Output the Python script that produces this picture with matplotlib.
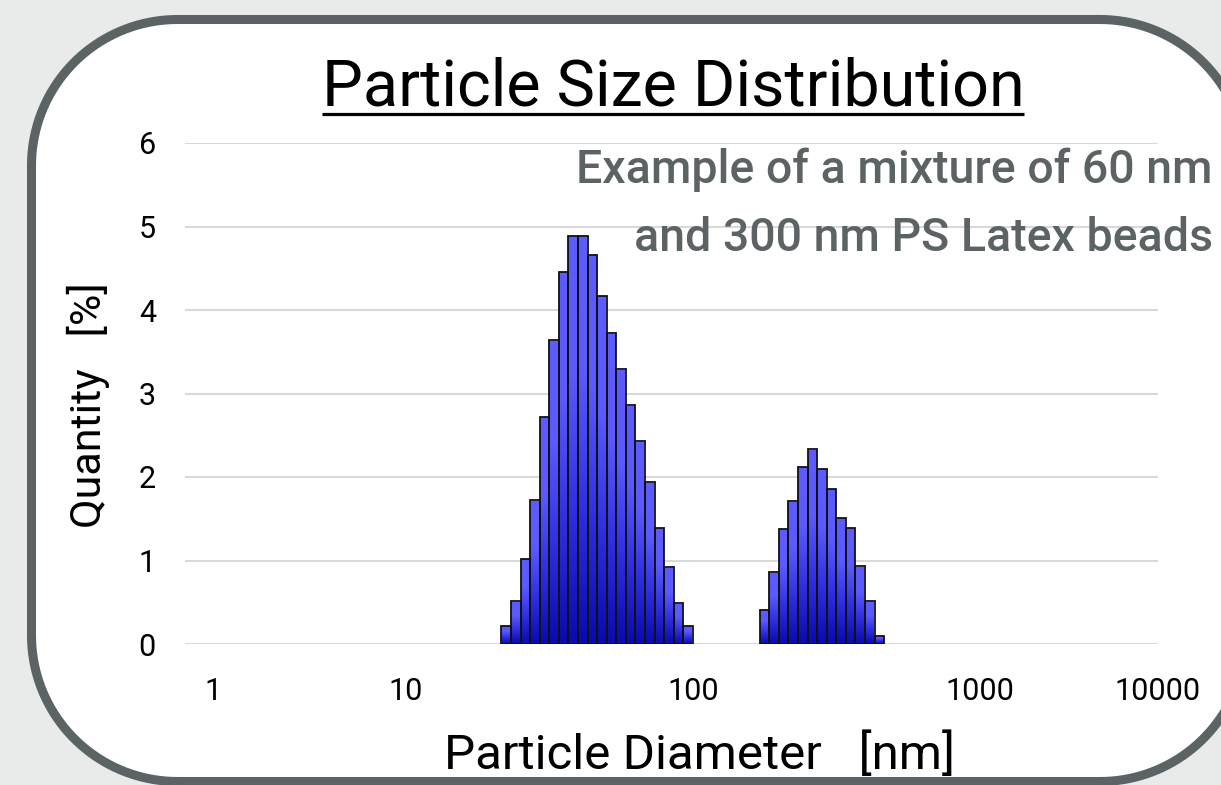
import matplotlib
matplotlib.use("Agg")
import matplotlib.pyplot as plt
import numpy as np
from matplotlib import font_manager
from matplotlib.patches import Rectangle
from matplotlib.colors import LinearSegmentedColormap

# bin edges (nm) and heights (%)
edges_small = [21.54, 23.26, 25.12, 27.13, 29.29, 31.62, 34.15, 36.87, 39.81, 42.99, 46.42,
               50.12, 54.12, 58.45, 63.10, 68.13, 73.56, 79.43, 85.77, 92.61, 100.0]
heights_small = [0.22, 0.51, 1.02, 1.72, 2.72, 3.64, 4.46, 4.89, 4.89, 4.66,
                 4.17, 3.72, 3.29, 2.86, 2.43, 1.94, 1.39, 0.92, 0.49, 0.22]
edges_large = [171.1, 184.8, 199.5, 215.4, 232.6, 251.2, 271.2, 292.9, 316.2, 341.5,
               368.8, 398.1, 429.9, 464.2]
heights_large = [0.41, 0.86, 1.38, 1.71, 2.12, 2.33, 2.10, 1.86, 1.51, 1.39, 0.93, 0.51, 0.10]

xtick_pos = [2.13, 10, 100, 1000, 4170]
xtick_labels = ["1", "10", "100", "1000", "10000"]
yticks = [0, 1, 2, 3, 4, 5, 6]

title = "Particle Size Distribution"
note_lines = ["Example of a mixture of 60 nm", "and 300 nm PS Latex beads"]

available = {f.name for f in font_manager.fontManager.ttflist}
font = next(f for f in ["Liberation Sans Narrow", "Roboto", "DejaVu Sans"] if f in available)
plt.rcParams["font.family"] = font

W, H = 1221, 785
fig = plt.figure(figsize=(W / 100, H / 100), dpi=100, facecolor="#e9ebea")
fig.patch.set_linewidth(0)

# background panel with rounded border, drawn in pixel units
bg = fig.add_axes([0, 0, 1, 1], zorder=0)
bg.set_xlim(0, W)
bg.set_ylim(H, 0)
bg.set_autoscale_on(False)
bg.axis("off")

x0, y0, x1, y1, r = 31.5, 19.5, 1246, 781.5, 146
a = np.linspace(0, np.pi / 2, 40)
px = np.concatenate([x1 - r + r * np.sin(a), x1 - r + r * np.cos(a),
                     x0 + r - r * np.sin(a), x0 + r - r * np.cos(a)])
py = np.concatenate([y0 + r - r * np.cos(a), y1 - r + r * np.sin(a),
                     y1 - r + r * np.cos(a), y0 + r - r * np.sin(a)])
px = np.append(px, px[0])
py = np.append(py, py[0])
bg.fill(px, py, facecolor="white", edgecolor="none", clip_on=False)
bg.plot(px, py, color="#5b6364", linewidth=6.5, solid_joinstyle="round", clip_on=False)
# the right side of the panel runs past the picture edge: keep that strip white
bg.add_patch(Rectangle((1150, 110), 80, 580, facecolor="white", edgecolor="none", zorder=5))

ax = fig.add_axes([185 / W, 1 - 644 / H, 973 / W, 501 / H], zorder=1)
ax.patch.set_alpha(0)
ax.set_xscale("log")
ax.set_xlim(1.70, 4180)
ax.set_ylim(0, 6)

grad = LinearSegmentedColormap.from_list("bar", ["#0a0ab0", "#3030e4", "#5a5aff", "#5c5cff"])
gimg = np.linspace(0, 1, 64).reshape(-1, 1)

for edges, heights in [(edges_small, heights_small), (edges_large, heights_large)]:
    left = np.array(edges[:-1])
    width = np.diff(edges)
    for l, w, h in zip(left, width, heights):
        ax.imshow(gimg, cmap=grad, origin="lower", aspect="auto",
                  extent=[l, l + w, 0, h], zorder=2, interpolation="bilinear")
    ax.bar(left, heights, width=width, align="edge", facecolor="none",
           edgecolor="#111111", linewidth=1.3, zorder=3)

ax.set_xlim(1.70, 4180)
ax.set_ylim(0, 6)
ax.set_yticks(yticks)
ax.set_yticklabels([str(v) for v in yticks])
ax.set_xticks(xtick_pos)
ax.set_xticklabels(xtick_labels)
ax.xaxis.set_minor_locator(plt.NullLocator())
ax.grid(axis="y", color="#d9d9d9", linewidth=1.5, zorder=1)
ax.set_axisbelow(True)
for s in ax.spines.values():
    s.set_visible(False)
ax.tick_params(axis="both", length=0, labelsize=22, colors="black")
ax.tick_params(axis="y", pad=21)
ax.tick_params(axis="x", pad=24)

fig.text(700 / W, 1 - 756 / H, "Particle Diameter   [nm]", ha="center", va="center", fontsize=35.5)
fig.text(88 / W, 1 - 405 / H, "Quantity   [%]", ha="center", va="center", rotation=90, fontsize=31)

t = fig.text(673 / W, 1 - 105 / H, title, ha="center", va="baseline", fontsize=46.5)
fig.canvas.draw()
bb = t.get_window_extent()
bg.plot([bb.x0, bb.x1], [114, 114], color="black", linewidth=2.3, solid_capstyle="butt")

for line, base in zip(note_lines, [183, 251]):
    fig.text(1213 / W, 1 - base / H, line, ha="right", va="baseline", fontsize=33.5,
             color="#5b6364", fontweight="medium")

fig.savefig("out.png", dpi=100, facecolor=fig.get_facecolor())
